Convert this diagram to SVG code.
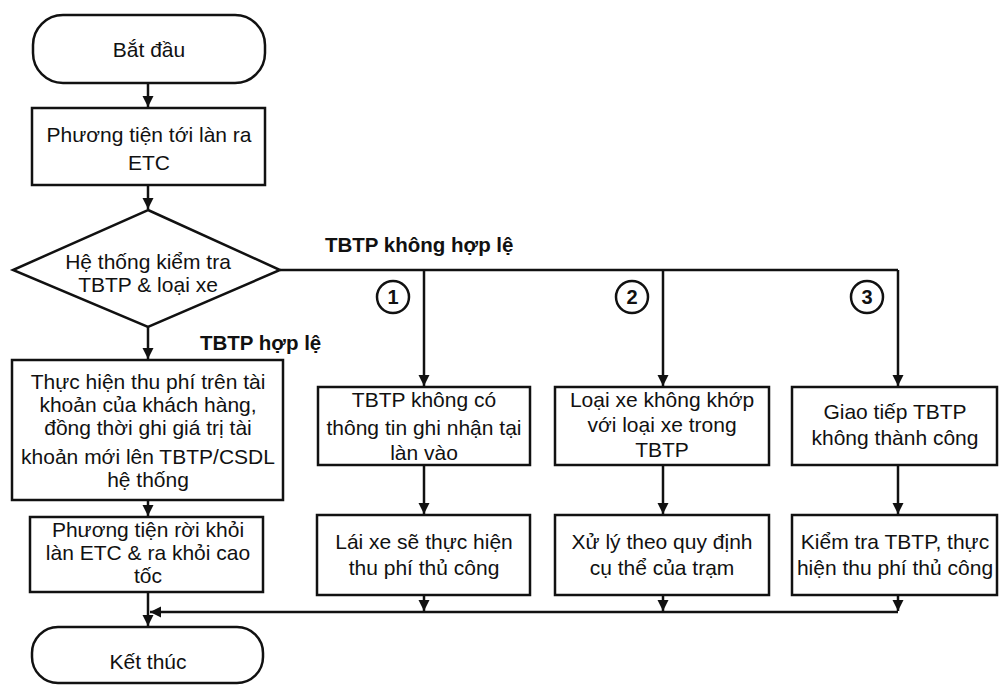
<svg xmlns="http://www.w3.org/2000/svg" width="999" height="690" viewBox="0 0 999 690">
<defs>
<style>
.s{fill:#fff;stroke:#111;stroke-width:2.5}
.t{font-family:"Liberation Sans",Arial,sans-serif;font-size:21px;fill:#111;text-anchor:middle}
.b{font-family:"Liberation Sans",Arial,sans-serif;font-size:20.5px;font-weight:bold;fill:#111}
.c{fill:none;stroke:#111;stroke-width:2.5}
.n{font-family:"Liberation Sans",Arial,sans-serif;font-size:20px;font-weight:bold;fill:#111;text-anchor:middle}
</style>
<marker id="a" viewBox="0 0 10 10" refX="10" refY="5" markerWidth="4.5" markerHeight="4.5" orient="auto" markerUnits="strokeWidth">
<path d="M0,0 L10,5 L0,10 z" fill="#111"/>
</marker>
</defs>
<rect width="999" height="690" fill="#fff"/>
<g id="connectors">
<path class="c" d="M148,83 V107" marker-end="url(#a)"/>
<path class="c" d="M148,185 V209" marker-end="url(#a)"/>
<path class="c" d="M148,327 V359" marker-end="url(#a)"/>
<path class="c" d="M148,500 V516" marker-end="url(#a)"/>
<path class="c" d="M148,592 V626" marker-end="url(#a)"/>
<path class="c" d="M280,270 H898"/>
<path class="c" d="M424,270 V386" marker-end="url(#a)"/>
<path class="c" d="M663,270 V386" marker-end="url(#a)"/>
<path class="c" d="M898,270 V386" marker-end="url(#a)"/>
<path class="c" d="M424,465 V514" marker-end="url(#a)"/>
<path class="c" d="M663,465 V514" marker-end="url(#a)"/>
<path class="c" d="M898,465 V514" marker-end="url(#a)"/>
<path class="c" d="M424,595 V611" marker-end="url(#a)"/>
<path class="c" d="M663,595 V611" marker-end="url(#a)"/>
<path class="c" d="M898,595 V611" marker-end="url(#a)"/>
<path class="c" d="M898,612 H150" marker-end="url(#a)"/>
</g>
<g id="label-invalid"><text class="b" x="325" y="252">TBTP không hợp lệ</text></g>
<g id="label-valid"><text class="b" x="200" y="350">TBTP hợp lệ</text></g>
<g id="n-start">
<rect class="s" x="33" y="15" width="232" height="68" rx="30"/>
<text class="t" x="149" y="57">Bắt đầu</text>
</g>
<g id="n-arrive">
<rect class="s" x="32" y="108" width="233" height="77"/>
<text class="t" x="149" y="142">Phương tiện tới làn ra</text>
<text class="t" x="149" y="170">ETC</text>
</g>
<g id="n-check">
<polygon class="s" points="148,210 280,270 148,327 13,270"/>
<text class="t" x="148" y="269">Hệ thống kiểm tra</text>
<text class="t" x="148" y="292">TBTP &amp; loại xe</text>
</g>
<g id="n-charge">
<rect class="s" x="12" y="360" width="271" height="140"/>
<text class="t" x="148" y="389">Thực hiện thu phí trên tài</text>
<text class="t" x="148" y="412">khoản của khách hàng,</text>
<text class="t" x="148" y="435">đồng thời ghi giá trị tài</text>
<text class="t" x="148" y="464">khoản mới lên TBTP/CSDL</text>
<text class="t" x="148" y="487">hệ thống</text>
</g>
<g id="n-leave">
<rect class="s" x="30" y="517" width="233" height="75"/>
<text class="t" x="148" y="537">Phương tiện rời khỏi</text>
<text class="t" x="148" y="560">làn ETC &amp; ra khỏi cao</text>
<text class="t" x="148" y="583">tốc</text>
</g>
<g id="n-end">
<rect class="s" x="32" y="627" width="231" height="56" rx="26"/>
<text class="t" x="148" y="669">Kết thúc</text>
</g>
<g id="c1"><circle class="s" cx="393" cy="297" r="16"/><text class="n" x="393" y="304">1</text></g>
<g id="c2"><circle class="s" cx="632" cy="297" r="16"/><text class="n" x="632" y="304">2</text></g>
<g id="c3"><circle class="s" cx="867" cy="297" r="16"/><text class="n" x="867" y="304">3</text></g>
<g id="n-r1c1">
<rect class="s" x="318" y="387" width="212" height="78"/>
<text class="t" x="424" y="407">TBTP không có</text>
<text class="t" x="424" y="435">thông tin ghi nhận tại</text>
<text class="t" x="424" y="460">làn vào</text>
</g>
<g id="n-r1c2">
<rect class="s" x="555" y="387" width="214" height="78"/>
<text class="t" x="662" y="407">Loại xe không khớp</text>
<text class="t" x="662" y="432">với loại xe trong</text>
<text class="t" x="662" y="457">TBTP</text>
</g>
<g id="n-r1c3">
<rect class="s" x="792" y="387" width="205" height="78"/>
<text class="t" x="895" y="419">Giao tiếp TBTP</text>
<text class="t" x="895" y="445">không thành công</text>
</g>
<g id="n-r2c1">
<rect class="s" x="317" y="515" width="213" height="80"/>
<text class="t" x="424" y="549">Lái xe sẽ thực hiện</text>
<text class="t" x="424" y="575">thu phí thủ công</text>
</g>
<g id="n-r2c2">
<rect class="s" x="555" y="515" width="214" height="80"/>
<text class="t" x="662" y="549">Xử lý theo quy định</text>
<text class="t" x="662" y="575">cụ thể của trạm</text>
</g>
<g id="n-r2c3">
<rect class="s" x="792" y="515" width="205" height="80"/>
<text class="t" x="895" y="549">Kiểm tra TBTP, thực</text>
<text class="t" x="895" y="575">hiện thu phí thủ công</text>
</g>
</svg>
